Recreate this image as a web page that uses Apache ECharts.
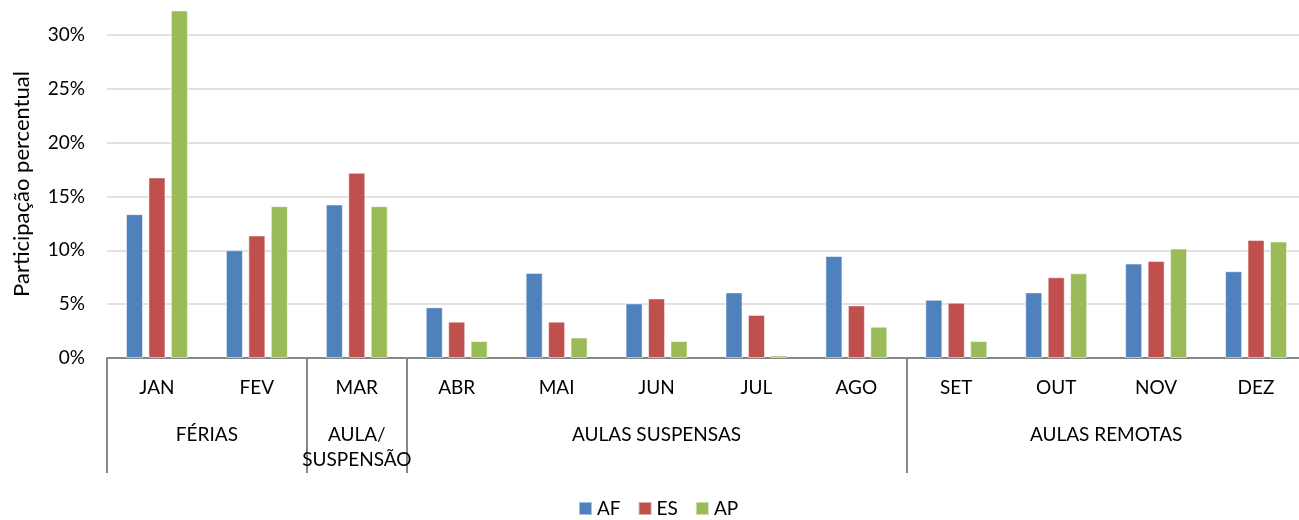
<!DOCTYPE html>
<html>
<head>
<meta charset="utf-8">
<script src="https://cdn.jsdelivr.net/npm/echarts@6/dist/echarts.min.js"></script>
<style>
  html, body { margin: 0; padding: 0; background: #fff; }
  #chart { width: 1299px; height: 520px; }
</style>
</head>
<body>
<div id="chart"></div>
<script>
  // meses e séries
  var months = ['JAN', 'FEV', 'MAR', 'ABR', 'MAI', 'JUN', 'JUL', 'AGO', 'SET', 'OUT', 'NOV', 'DEZ'];
  var afValues = [13.35, 10.0, 14.25, 4.7, 7.9, 5.07, 6.09, 9.47, 5.4, 6.09, 8.76, 8.05];
  var esValues = [16.76, 11.37, 17.19, 3.37, 3.37, 5.53, 4.0, 4.88, 5.13, 7.49, 9.0, 10.96];
  var apValues = [32.26, 14.09, 14.09, 1.57, 1.9, 1.57, 0.23, 2.9, 1.57, 7.86, 10.16, 10.81];
  var yTicks = [0, 5, 10, 15, 20, 25, 30];

  // grupos: nome e intervalo de meses (índice inicial e final)
  var groupNames = ['FÉRIAS', 'AULA/\nSUSPENSÃO', 'AULAS SUSPENSAS', 'AULAS REMOTAS'];
  var groupFrom = [0, 2, 3, 8];
  var groupTo = [1, 2, 7, 11];

  // eixo auxiliar em meias-categorias (0..24) para rótulos e separadores dos grupos
  var halfSlots = [];
  for (var i = 0; i <= months.length * 2; i++) halfSlots.push('');
  var separators = {};
  groupNames.forEach(function (name, g) {
    halfSlots[groupFrom[g] + groupTo[g] + 1] = name;
    separators[groupFrom[g] * 2] = true;
  });
  separators[months.length * 2] = true;

  var font = 'Lato, "Open Sans", sans-serif';
  var chart = echarts.init(document.getElementById('chart'));
  chart.setOption({
    animation: false,
    textStyle: { fontFamily: font },
    grid: { left: 107, right: -7, top: 10, bottom: 162, outerBoundsMode: 'none' },
    legend: {
      bottom: -3,
      left: 573,
      icon: 'rect',
      itemWidth: 13,
      itemHeight: 13,
      itemGap: 17,
      textStyle: { fontSize: 19, color: '#000', fontFamily: font },
      data: ['AF', 'ES', 'AP']
    },
    xAxis: [{
      type: 'category',
      data: months,
      position: 'bottom',
      axisLine: { lineStyle: { color: '#868686', width: 2 } },
      axisTick: { show: false },
      axisLabel: { interval: 0, margin: 20, fontSize: 19, color: '#000', fontFamily: font }
    }, {
      type: 'category',
      data: halfSlots,
      position: 'bottom',
      boundaryGap: false,
      axisLine: { show: false },
      axisTick: {
        show: true,
        length: 115,
        interval: function (idx) { return !!separators[idx]; },
        lineStyle: { color: '#868686', width: 2 }
      },
      axisLabel: {
        interval: function (idx, val) { return val !== ''; },
        margin: 64,
        fontSize: 19,
        lineHeight: 25,
        color: '#000',
        fontFamily: font
      },
      splitLine: { show: false }
    }],
    yAxis: {
      type: 'value',
      min: yTicks[0],
      max: 32.3,
      interval: yTicks[1] - yTicks[0],
      name: 'Participação percentual',
      nameLocation: 'middle',
      nameGap: 74,
      nameRotate: 90,
      nameTextStyle: { fontSize: 22, color: '#000', fontFamily: font },
      axisLine: { show: false },
      axisTick: { show: false },
      axisLabel: {
        margin: 22,
        fontSize: 19,
        color: '#000',
        fontFamily: font,
        showMaxLabel: false,
        formatter: function (v) { return yTicks.indexOf(v) >= 0 ? v + '%' : ''; }
      },
      splitLine: { showMaxLine: false, lineStyle: { color: '#d9d9d9', width: 1.5 } }
    },
    series: [
      { name: 'AF', type: 'bar', data: afValues, barWidth: 17, barGap: '32%',
        itemStyle: { color: '#4F81BD', borderColor: 'rgba(255,255,255,0.5)', borderWidth: 1 } },
      { name: 'ES', type: 'bar', data: esValues, barWidth: 17, barGap: '32%',
        itemStyle: { color: '#C0504D', borderColor: 'rgba(255,255,255,0.5)', borderWidth: 1 } },
      { name: 'AP', type: 'bar', data: apValues, barWidth: 17, barGap: '32%',
        itemStyle: { color: '#9BBB59', borderColor: 'rgba(255,255,255,0.5)', borderWidth: 1 } }
    ]
  });
</script>
</body>
</html>
